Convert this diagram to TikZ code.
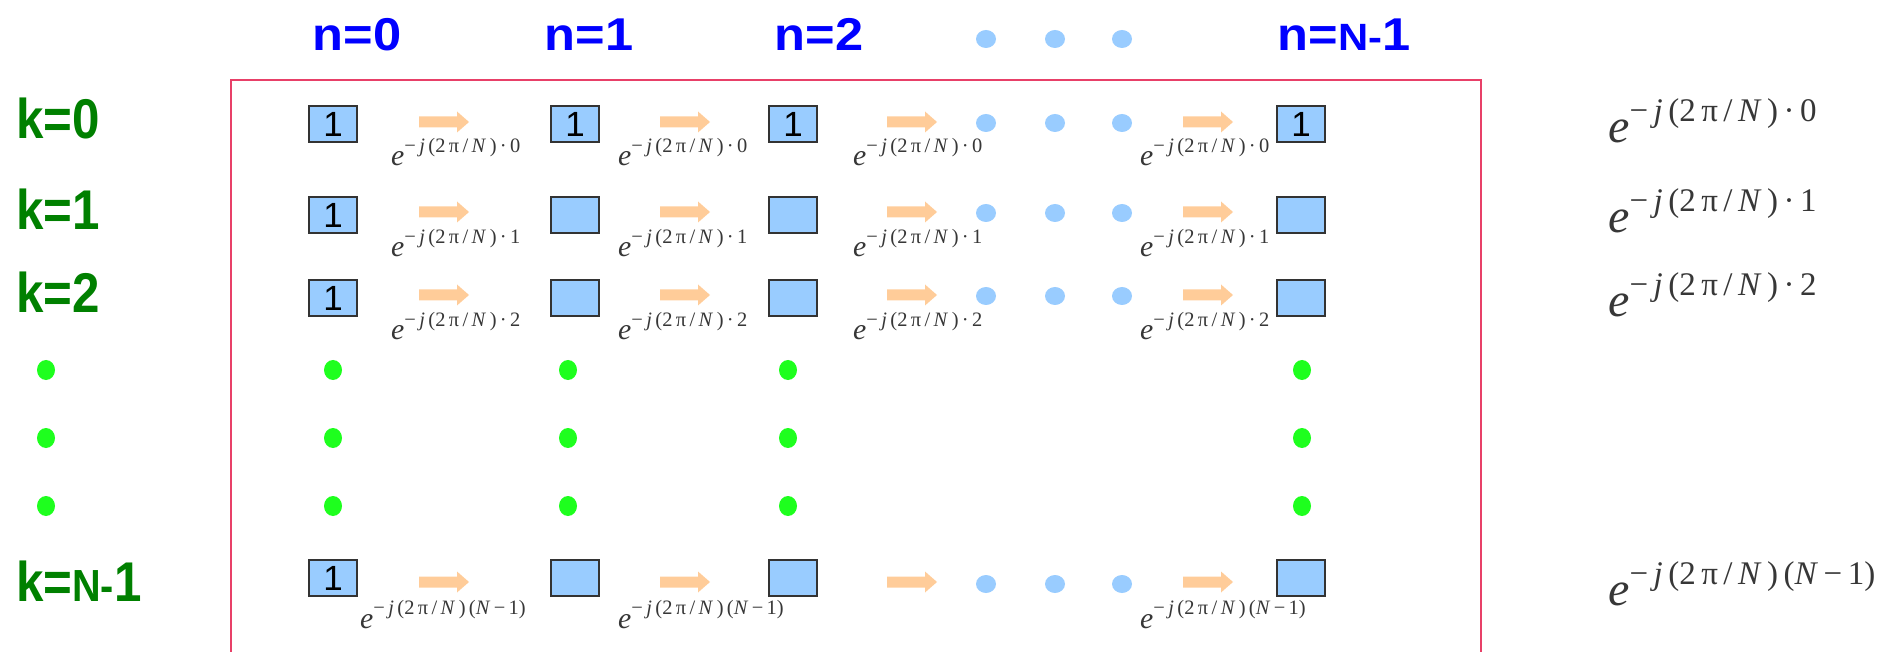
\documentclass[tikz,border=0pt]{standalone}
\usepackage{fontspec}
\setmainfont{Liberation Serif}
\newfontfamily\lsans{Liberation Sans}
\usetikzlibrary{shapes.geometric}
\definecolor{boxblue}{RGB}{153,204,255}
\definecolor{peach}{RGB}{255,204,153}
\definecolor{lblgreen}{RGB}{0,128,0}
\definecolor{dotgreen}{RGB}{30,255,30}
\definecolor{framepink}{RGB}{232,64,104}
\definecolor{formgray}{RGB}{55,55,55}
\definecolor{lblblue}{RGB}{0,0,255}
\newcommand{\expo}[1]{{\fontsize{48}{50}\selectfont\textit{e}\raisebox{21pt}{\fontsize{33}{35}\selectfont −\,\textit{j}\,(2\,π\,/\,\textit{N}\,)#1}}}
\newcommand{\dotk}[1]{\,·\,#1}
\newcommand{\nmone}{\,(\textit{N}\,−\,1)}
\newcommand{\smallexpo}[1]{\scalebox{0.62}{\expo{#1}}}
\newcommand{\nlab}[1]{\scalebox{1.1}[1]{\lsans\bfseries\fontsize{46}{48}\selectfont #1}}
\newcommand{\klab}[1]{\scalebox{0.88}[1]{\lsans\bfseries\fontsize{56}{58}\selectfont #1}}
\begin{document}
\begin{tikzpicture}[x=1pt,y=-1pt,
  cell/.style={draw=black!80, line width=1.3pt, fill=boxblue, minimum width=48pt,
    minimum height=36pt, inner sep=0pt, font=\lsans\fontsize{35}{36}\selectfont},
  bdot/.style={ellipse, fill=boxblue, minimum width=20pt, minimum height=18pt, inner sep=0pt},
  gdot/.style={ellipse, fill=dotgreen, minimum width=18pt, minimum height=20pt, inner sep=0pt},
  ncol/.style={text=lblblue, anchor=base, inner sep=0pt},
  krow/.style={text=lblgreen, anchor=base west, inner sep=0pt},
  sform/.style={text=formgray, anchor=base west, inner sep=0pt},
  oarr/.pic={\fill[peach] (0,-5.5) -- (38,-5.5) -- (38,-10.5) -- (50,0) -- (38,10.5) -- (38,5.5) -- (0,5.5) -- cycle;}
]
\useasboundingbox (0,0) rectangle (1888,652);
\clip (0,0) rectangle (1888,652);
\draw[framepink, line width=1.2pt] (231,700) -- (231,80) -- (1481,80) -- (1481,700);

% column labels
\node[ncol] (n0) at (357,51) {\nlab{n=0}};
\node[ncol] (n1) at (589,51) {\nlab{n=1}};
\node[ncol] (n2) at (819,51) {\nlab{n=2}};
\node[ncol] (nN) at (1344,51) {\nlab{n={\fontsize{38}{40}\selectfont N-}1}};
\node[bdot] (td1) at (986,39) {};
\node[bdot] (td2) at (1055,39) {};
\node[bdot] (td3) at (1122,39) {};

% row labels
\node[krow] (k0) at (16,139) {\klab{k=0}};
\node[krow] (k1) at (16,230) {\klab{k=1}};
\node[krow] (k2) at (16,313) {\klab{k=2}};
\node[krow] (kN) at (16,601) {\klab{k={\fontsize{45}{47}\selectfont N-}1}};

% boxes
\foreach \c/\x in {0/333,1/575,2/793,3/1301}{
  \foreach \r/\y in {0/124,1/215,2/298,3/578}{
    \node[cell] (b\r\c) at (\x,\y) {};
  }
}
\foreach \r in {0,1,2,3}{\node[font=\lsans\fontsize{35}{36}\selectfont, inner sep=0pt] (one\r) at (b\r0) {1};}
\foreach \c in {1,2,3}{\node[font=\lsans\fontsize{35}{36}\selectfont, inner sep=0pt] (onec\c) at (b0\c) {1};}

% arrows
\foreach \y in {122,212,295,582}{
  \foreach \x in {419,660,887,1183}{
    \pic at (\x,\y) {oarr};
  }
}

% blue dots in rows
\foreach \r/\y in {0/123,1/213,2/296,3/584}{
  \node[bdot] (rd\r a) at (986,\y) {};
  \node[bdot] (rd\r b) at (1055,\y) {};
  \node[bdot] (rd\r c) at (1122,\y) {};
}

% green dots
\foreach \i/\x in {a/46,b/333,c/568,d/788,e/1302}{
  \foreach \j/\y in {1/370,2/438,3/506}{
    \node[gdot] (g\i\j) at (\x,\y) {};
  }
}

% small formulas
\foreach \k/\y in {0/166,1/257,2/340}{
  \foreach \c/\x in {0/391,1/618,2/853,3/1140}{
    \node[sform] (f\k\c) at (\x,\y) {\smallexpo{\dotk{\k}}};
  }
}
\node[sform] (fN0) at (360,628) {\smallexpo{\nmone}};
\node[sform] (fN1) at (618,628) {\smallexpo{\nmone}};
\node[sform] (fN3) at (1140,628) {\smallexpo{\nmone}};

% large formulas
\node[sform] (L0) at (1608,143) {\expo{\dotk{0}}};
\node[sform] (L1) at (1608,233) {\expo{\dotk{1}}};
\node[sform] (L2) at (1608,317) {\expo{\dotk{2}}};
\node[sform] (LN) at (1608,605) {\expo{\nmone}};
\end{tikzpicture}
\end{document}
